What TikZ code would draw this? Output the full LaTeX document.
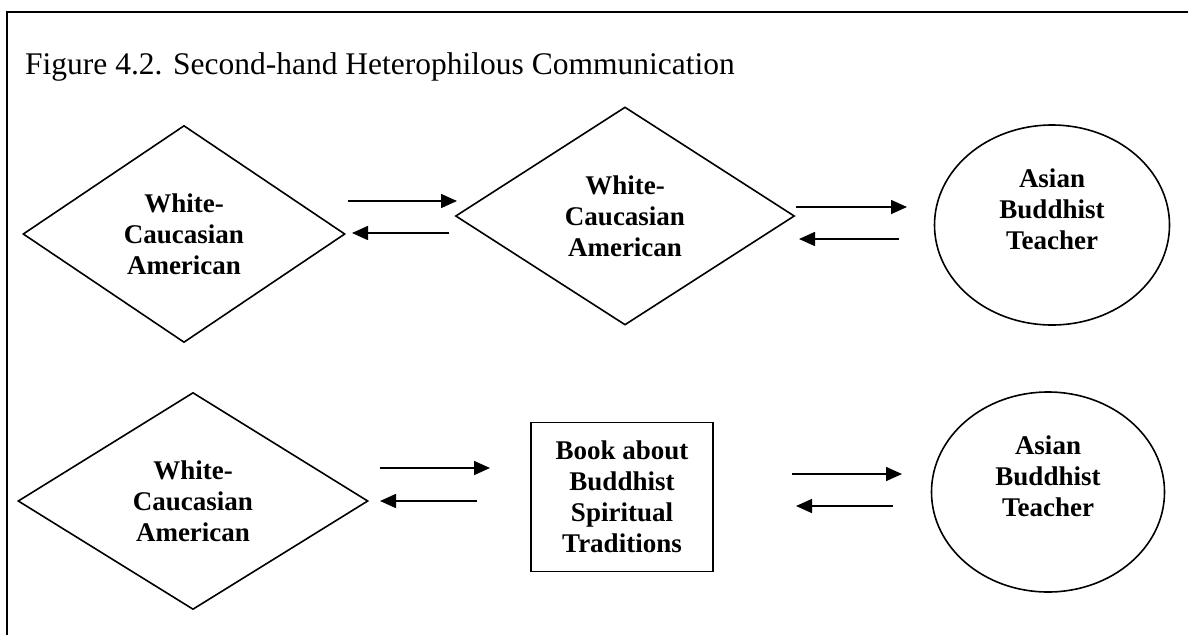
\documentclass[tikz,border=0pt]{standalone}
\usepackage{fontspec}
\setmainfont{Liberation Serif}
\usetikzlibrary{shapes.geometric,arrows.meta}
\tikzset{
  x=1pt, y=-1pt,
  shapeline/.style={draw=black, line width=1.6pt, inner sep=0pt},
  dia/.style={shapeline, diamond, align=center, font=\fontsize{27}{31}\selectfont\bfseries},
  ell/.style={shapeline, ellipse},
  bookbox/.style={shapeline, rectangle, align=center, font=\fontsize{27}{31}\selectfont\bfseries},
  lbl/.style={align=center, font=\fontsize{27}{31}\selectfont\bfseries, inner sep=0pt},
  arr/.style={line width=1.6pt, -{Triangle[length=16pt,width=14pt]}},
}
\begin{document}
\begin{tikzpicture}
\useasboundingbox (0,0) rectangle (1188,635);
\fill[white] (0,0) rectangle (1188,635);
% frame (cut by the page edges)
\coordinate (fbl) at (7,635);
\coordinate (ftl) at (7,12);
\coordinate (ftr) at (1188,12);
\draw[line width=2.2pt] (fbl) -- (ftl) -- (ftr);
% title
\node[anchor=base west, inner sep=0pt, font=\fontsize{31.5}{36}\selectfont] (title) at (25,74)
  {Figure 4.2. Second-hand Heterophilous Communication};
% top row
\node[dia, minimum width=322, minimum height=217] (d1) at (184,234) {White-\\Caucasian\\American};
\node[dia, minimum width=339, minimum height=218] (d2) at (625,216) {White-\\Caucasian\\American};
\node[ell, minimum width=235, minimum height=200] (e1) at (1052,225) {};
\node[lbl] (e1t) at ([yshift=16pt]e1.center) {Asian\\Buddhist\\Teacher};
% bottom row
\node[dia, minimum width=350, minimum height=217] (d3) at (193,501) {White-\\Caucasian\\American};
\node[bookbox, minimum width=182, minimum height=149] (b1) at (622,497) {Book about\\Buddhist\\Spiritual\\Traditions};
\node[ell, minimum width=233, minimum height=200] (e2) at (1048,492) {};
\node[lbl] (e2t) at ([yshift=16pt]e2.center) {Asian\\Buddhist\\Teacher};
% arrow end points
\coordinate (a1s) at (348,201); \coordinate (a1e) at (457,201);
\coordinate (a2s) at (449,233); \coordinate (a2e) at (352,233);
\coordinate (a3s) at (796,207); \coordinate (a3e) at (907,207);
\coordinate (a4s) at (899,239); \coordinate (a4e) at (799,239);
\coordinate (a5s) at (380,468); \coordinate (a5e) at (490,468);
\coordinate (a6s) at (477,501); \coordinate (a6e) at (380,501);
\coordinate (a7s) at (792,474); \coordinate (a7e) at (902,474);
\coordinate (a8s) at (893,506); \coordinate (a8e) at (796,506);
\draw[arr] (a1s) -- (a1e);
\draw[arr] (a2s) -- (a2e);
\draw[arr] (a3s) -- (a3e);
\draw[arr] (a4s) -- (a4e);
\draw[arr] (a5s) -- (a5e);
\draw[arr] (a6s) -- (a6e);
\draw[arr] (a7s) -- (a7e);
\draw[arr] (a8s) -- (a8e);
\end{tikzpicture}
\end{document}
